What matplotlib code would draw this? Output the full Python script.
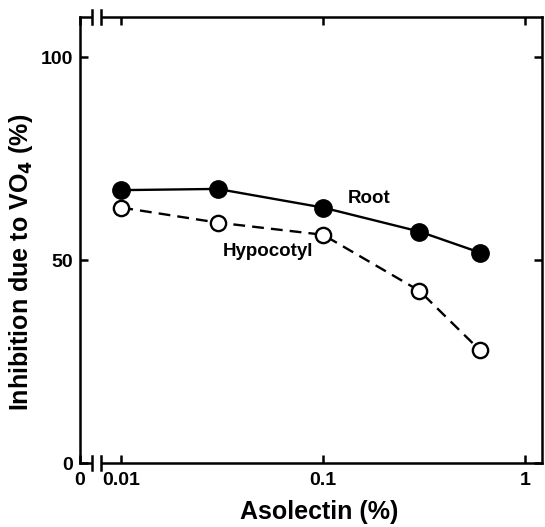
import matplotlib
matplotlib.use("Agg")
import matplotlib.pyplot as plt
import matplotlib.transforms as mtransforms

# asolectin concentration (%)
asolectin = [0.01, 0.03, 0.1, 0.3, 0.6]
root = [67.3, 67.6, 63.0, 57.1, 51.9]
hypocotyl = [63.0, 59.3, 56.3, 42.5, 27.8]

x_left = 0.00625   # where the "0" sits, after the axis break
x_right = 1.22
xticks = [x_left, 0.01, 0.1, 1]
xticklabels = ["0", "0.01", "0.1", "1"]
yticks = [0, 50, 100]
yticklabels = ["0", "50", "100"]

plt.rcParams["font.family"] = ["Liberation Sans", "DejaVu Sans"]
plt.rcParams["font.weight"] = "bold"

fig = plt.figure(figsize=(5.45, 5.27), dpi=100)
ax = fig.add_axes([0.147, 0.121, 0.848, 0.847])

ax.plot(asolectin, root, "-", color="black", lw=1.7,
        marker="o", ms=12.5, mfc="black", mec="black", zorder=3)
ax.plot(asolectin, hypocotyl, "--", color="black", lw=1.7, dashes=(5, 3),
        marker="o", ms=11, mfc="white", mec="black", mew=1.7, zorder=3)

ax.text(0.169, 65.2, "Root", ha="center", va="center", fontsize=13.5, fontweight="bold")
ax.text(0.0532, 52.1, "Hypocotyl", ha="center", va="center", fontsize=13.5, fontweight="bold")

ax.set_xscale("log")
ax.set_xlim(x_left, x_right)
ax.set_ylim(0, 110)
ax.set_xticks(xticks)
ax.set_xticklabels(xticklabels)
ax.minorticks_off()
ax.set_yticks(yticks)
ax.set_yticklabels(yticklabels)

ax.tick_params(direction="in", length=6, width=1.8, top=True, right=True,
               labelsize=14, pad=6)
ax.tick_params(axis="y", pad=5)
for lab in ax.get_xticklabels() + ax.get_yticklabels():
    lab.set_fontweight("bold")

for sp in ax.spines.values():
    sp.set_linewidth(1.8)

ax.set_xlabel("Asolectin (%)", fontsize=18, fontweight="bold")
ax.set_ylabel("Inhibition due to VO$_\\mathbf{4}$ (%)", fontsize=18,
              fontweight="bold")
ax.xaxis.set_label_coords(0.517, -0.083)
ax.yaxis.set_label_coords(-0.097, 0.45)

# axis break marks on bottom and top spines
trans = mtransforms.blended_transform_factory(ax.transData, ax.transAxes)
b1, b2 = 0.00712, 0.00789
for yy in (0, 1):
    ax.plot([b1, b2], [yy, yy], color="white", lw=3.5, transform=trans,
            clip_on=False, zorder=6, solid_capstyle="butt")
    for bx in (b1, b2):
        ax.plot([bx, bx], [yy - 0.016, yy + 0.016], color="black", lw=1.8,
                transform=trans, clip_on=False, zorder=7)

fig.savefig("out.png", dpi=100)
